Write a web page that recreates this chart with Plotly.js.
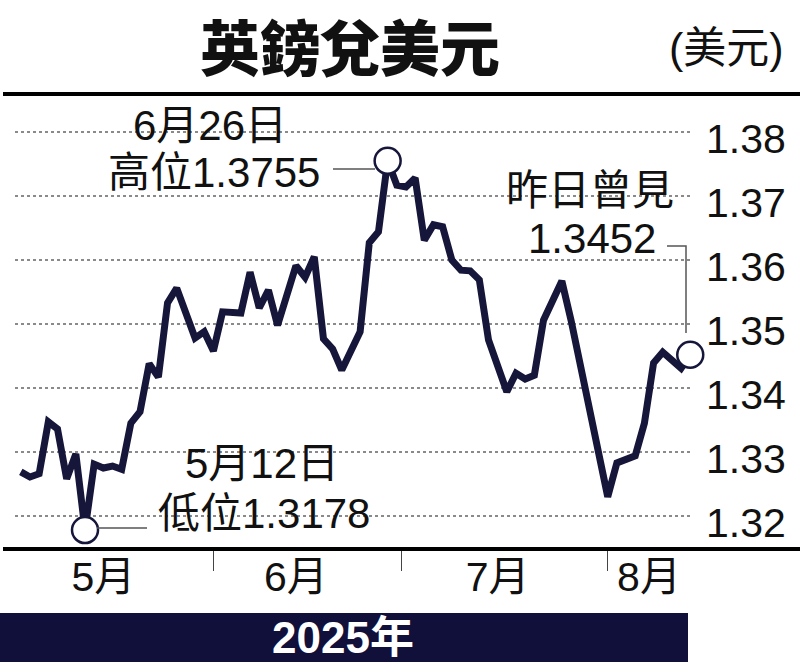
<!DOCTYPE html>
<html>
<head>
<meta charset="utf-8">
<script src="https://cdn.plot.ly/plotly-3.0.1.min.js"></script>
<style>
  html, body { margin: 0; padding: 0; background: #ffffff; }
  #chart { width: 800px; height: 662px; }
</style>
</head>
<body>
<div id="chart"></div>
<script>
// ---- data ----
const dates = [
  '2025-05-01','2025-05-02','2025-05-05','2025-05-06','2025-05-07','2025-05-08','2025-05-09',
  '2025-05-12','2025-05-13','2025-05-14','2025-05-15','2025-05-16','2025-05-19','2025-05-20',
  '2025-05-21','2025-05-22','2025-05-23','2025-05-26','2025-05-28','2025-05-29','2025-05-30',
  '2025-06-02','2025-06-04','2025-06-05','2025-06-06','2025-06-09','2025-06-10','2025-06-12',
  '2025-06-13','2025-06-16','2025-06-17','2025-06-18','2025-06-19','2025-06-23','2025-06-24',
  '2025-06-25','2025-06-26','2025-06-27','2025-06-30','2025-07-01','2025-07-02','2025-07-03',
  '2025-07-04','2025-07-07','2025-07-08','2025-07-09','2025-07-10','2025-07-11','2025-07-15',
  '2025-07-16','2025-07-17','2025-07-18','2025-07-21','2025-07-23','2025-07-24','2025-07-30',
  '2025-07-31','2025-08-04','2025-08-05','2025-08-06','2025-08-07','2025-08-11','2025-08-12'
];
const gbpusd = [
  1.3269, 1.3261, 1.3266, 1.3347, 1.3336, 1.3258, 1.3297,
  1.3178, 1.3281, 1.3275, 1.3278, 1.3273, 1.3345, 1.3363,
  1.3438, 1.3417, 1.3533, 1.3556, 1.3478, 1.3488, 1.3458,
  1.3519, 1.3517, 1.3581, 1.3525, 1.3553, 1.3498, 1.3591,
  1.3573, 1.3605, 1.3477, 1.3461, 1.3428, 1.3488, 1.3627,
  1.3644, 1.3755, 1.3717, 1.3714, 1.3728, 1.3631, 1.3655,
  1.3652, 1.3600, 1.3584, 1.3583, 1.3569, 1.3475, 1.3394,
  1.3423, 1.3414, 1.3420, 1.3506, 1.3567, 1.3506, 1.3230,
  1.3283, 1.3294, 1.3345, 1.3439, 1.3456, 1.3431, 1.3452
];
const yTicks = [1.32, 1.33, 1.34, 1.35, 1.36, 1.37, 1.38];
const monthLabels = ['5月', '6月', '7月', '8月'];
const monthLabelDates = ['2025-05-14', '2025-06-12', '2025-07-14', '2025-08-05 12:00'];
const monthDividers = ['2025-05-30', '2025-06-27 12:00', '2025-07-30'];
const titleText = '英鎊兌美元';
const unitText = '(美元)';
const yearText = '2025年';
const highLabel = ['6月26日', '高位1.3755'];
const lowLabel = ['5月12日', '低位1.3178'];
const lastLabel = ['昨日曾見', '1.3452'];

// ---- styling ----
const NAVY = '#15163a';
const FONT = '"Liberation Sans", Arial, "Noto Sans CJK TC", sans-serif';
const CJK_BOLD = '"Noto Sans CJK TC", "Noto Sans CJK SC", sans-serif';
const xRange = ['2025-04-30 08:47', '2025-08-12 07:12'];
const breaks = [{ bounds: ['sat', 'mon'] }];

// highlighted points (low, high, last)
let iMin = 0, iMax = 0;
gbpusd.forEach((v, i) => { if (v < gbpusd[iMin]) iMin = i; if (v > gbpusd[iMax]) iMax = i; });
const iLast = gbpusd.length - 1;
const hi = [iMin, iMax, iLast];

const traces = [
  {
    type: 'scatter', mode: 'lines', x: dates, y: gbpusd,
    line: { color: NAVY, width: 7 }, hoverinfo: 'skip', xaxis: 'x', yaxis: 'y'
  },
  {
    type: 'scatter', mode: 'markers', x: hi.map(i => dates[i]), y: hi.map(i => gbpusd[i]),
    marker: { size: 26, color: '#ffffff', line: { color: NAVY, width: 2.5 } },
    cliponaxis: false, hoverinfo: 'skip', xaxis: 'x2', yaxis: 'y'
  }
];

// pixel helpers for decorations (plot area: x 15..693, y 100..549)
const px = v => (v - 15) / 678;
const py = v => (549 - v) / 449;

function ann(text, x, y, size, extra) {
  return Object.assign({
    text: text, xref: 'paper', yref: 'paper', x: px(x), y: py(y),
    xanchor: 'center', yanchor: 'middle', showarrow: false,
    font: { family: FONT, size: size, color: '#111' }
  }, extra || {});
}

const annotations = [
  ann(titleText, 350, 44, 60, { borderpad: 0, font: { family: CJK_BOLD, size: 60, color: '#111', weight: 900 } }),
  ann(unitText, 726, 48, 43),
  ann(highLabel[0], 210, 125, 42),
  ann(highLabel[1], 214, 172, 42),
  ann(lowLabel[0], 262, 463, 42),
  ann(lowLabel[1], 264, 513, 42),
  ann(lastLabel[0], 590, 190, 42),
  ann(lastLabel[1], 592, 238, 42),
  ann(yearText, 343, 637, 44, { font: { family: FONT, size: 44, color: '#ffffff', weight: 700 } })
];

const shapes = [
  // white panels behind the label blocks (cover the dotted grid)
  { type: 'rect', xref: 'paper', yref: 'paper', x0: px(87), x1: px(338), y0: py(200), y1: py(104),
    fillcolor: '#ffffff', line: { width: 0 }, layer: 'between' },
  { type: 'rect', xref: 'paper', yref: 'paper', x0: px(135), x1: px(395), y0: py(540), y1: py(440),
    fillcolor: '#ffffff', line: { width: 0 }, layer: 'between' },
  { type: 'rect', xref: 'paper', yref: 'paper', x0: px(492), x1: px(687), y0: py(270), y1: py(165),
    fillcolor: '#ffffff', line: { width: 0 }, layer: 'between' },
  // connectors
  { type: 'line', xref: 'paper', yref: 'paper', x0: px(333), x1: px(375), y0: py(169), y1: py(169),
    line: { color: '#555', width: 1.5 } },
  { type: 'line', xref: 'paper', yref: 'paper', x0: px(97), x1: px(147), y0: py(528), y1: py(528),
    line: { color: '#555', width: 1.5 } },
  { type: 'path', xref: 'paper', yref: 'paper',
    path: 'M ' + px(667) + ' ' + py(246) + ' L ' + px(686) + ' ' + py(246) + ' L ' + px(686) + ' ' + py(333),
    line: { color: '#555', width: 1.5 } },
  // top rule and baseline
  { type: 'line', xref: 'paper', yref: 'paper', x0: px(3), x1: px(800), y0: py(94), y1: py(94),
    line: { color: '#000', width: 4 } },
  { type: 'line', xref: 'paper', yref: 'paper', x0: px(3), x1: px(800), y0: py(549), y1: py(549),
    line: { color: '#000', width: 4 } },
  // bottom year band
  { type: 'rect', xref: 'paper', yref: 'paper', x0: px(0), x1: px(688), y0: py(662), y1: py(613),
    fillcolor: '#10103a', line: { width: 0 } }
];

const layout = {
  width: 800, height: 662, autosize: false,
  margin: { l: 15, r: 107, t: 100, b: 113, pad: 0 },
  paper_bgcolor: '#ffffff', plot_bgcolor: '#ffffff',
  showlegend: false,
  font: { family: FONT, color: '#111' },
  xaxis: {
    type: 'date', range: xRange, rangebreaks: breaks,
    showgrid: false, zeroline: false, showline: false,
    tickmode: 'array', tickvals: monthDividers, showticklabels: false,
    ticks: 'outside', ticklen: 21, tickwidth: 1.5, tickcolor: '#444',
    fixedrange: true
  },
  xaxis2: {
    type: 'date', overlaying: 'x', anchor: 'y', side: 'bottom',
    range: xRange, rangebreaks: breaks,
    showgrid: false, zeroline: false, showline: false,
    tickmode: 'array', tickvals: monthLabelDates, ticktext: monthLabels,
    ticks: '', tickfont: { family: FONT, size: 41, color: '#111' },
    ticklabelstandoff: 0, fixedrange: true
  },
  yaxis: {
    side: 'right', range: [1.31484, 1.385],
    tickmode: 'array', tickvals: yTicks, ticktext: yTicks.map(v => v.toFixed(2)),
    showgrid: true, gridcolor: '#8a8a8a', griddash: 'dot', gridwidth: 1.6,
    zeroline: false, showline: false, ticks: '',
    tickfont: { family: FONT, size: 41, color: '#111' },
    ticklabelstandoff: 12, ticklabelshift: 7, fixedrange: true
  },
  annotations: annotations,
  shapes: shapes
};

Plotly.newPlot('chart', traces, layout, { staticPlot: true, displayModeBar: false });
</script>
</body>
</html>
